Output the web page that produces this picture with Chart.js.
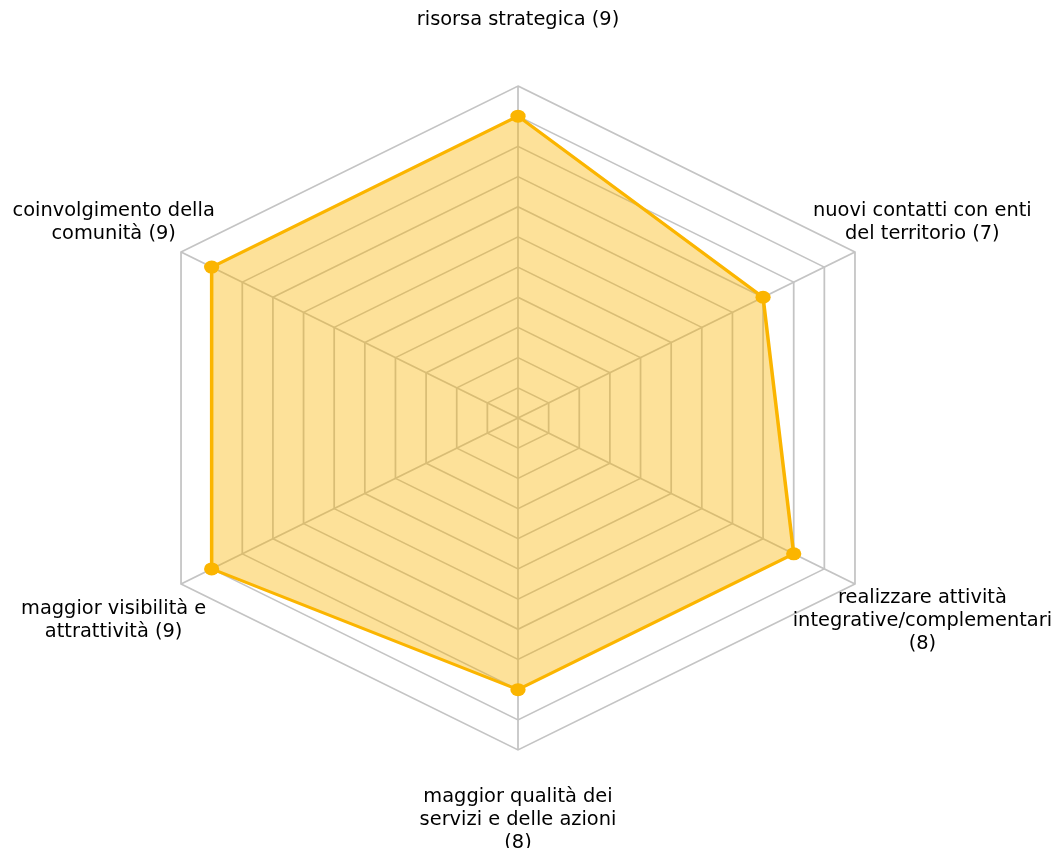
<!DOCTYPE html>
<html>
<head>
<meta charset="utf-8">
<script src="https://cdn.jsdelivr.net/npm/chart.js@4/dist/chart.umd.min.js"></script>
<style>
  html, body { margin: 0; padding: 0; background: #fff; }
  canvas { display: block; }
</style>
</head>
<body>
<canvas id="radarChart" width="1061" height="848"></canvas>
<script>
// Categories, clockwise from the top
const categories = [
    'risorsa strategica (9)',
    ['nuovi contatti con enti', 'del territorio (7)'],
    ['realizzare attività', 'integrative/complementari', '(8)'],
    ['maggior qualità dei', 'servizi e delle azioni', '(8)'],
    ['maggior visibilità e', 'attrattività (9)'],
    ['coinvolgimento della', 'comunità (9)']
];
// Counts for each category
const counts = [9, 7, 8, 8, 9, 9];

// Scale range (rings every 1 unit)
const scaleMin = -1;
const scaleMax = 10;

// The original hexagon is wider than tall
const stretch = 1.172;

const stretchPlugin = {
    id: 'stretch',
    beforeDraw(chart) {
        const r = chart.scales.r;
        const ctx = chart.ctx;
        ctx.save();
        ctx.translate(r.xCenter, 0);
        ctx.scale(stretch, 1);
        ctx.translate(-r.xCenter, 0);
    },
    afterDatasetsDraw(chart) {
        chart.ctx.restore();
    },
    afterDraw(chart) {
        // Category labels, centred around each spoke
        const r = chart.scales.r;
        const ctx = chart.ctx;
        ctx.save();
        ctx.font = '19.4px "DejaVu Sans"';
        ctx.fillStyle = '#000';
        ctx.textAlign = 'center';
        ctx.textBaseline = 'middle';
        const lineHeight = 22.8;
        chart.data.labels.forEach((label, i) => {
            const p = r.getPointPosition(i, r.drawingArea * 1.2);
            const x = r.xCenter + (p.x - r.xCenter) * stretch;
            const lines = [].concat(label);
            const shift = lines.length > 1 ? 3.5 : 0;
            lines.forEach((line, j) => {
                ctx.fillText(line, x, p.y + shift + (j - (lines.length - 1) / 2) * lineHeight);
            });
        });
        ctx.restore();
    }
};

const ctx = document.getElementById('radarChart').getContext('2d');
new Chart(ctx, {
    type: 'radar',
    data: {
        labels: categories,
        datasets: [{
            data: counts,
            borderColor: '#fbb500',
            backgroundColor: 'rgba(251, 181, 0, 0.4)',
            borderWidth: 3,
            fill: 'start',
            pointRadius: 6.5,
            pointBackgroundColor: '#fbb500',
            pointBorderWidth: 0,
            tension: 0
        }]
    },
    options: {
        responsive: false,
        animation: false,
        layout: {
            padding: { left: 185, right: 210, top: 86, bottom: 98 }
        },
        plugins: {
            legend: { display: false },
            tooltip: { enabled: false }
        },
        scales: {
            r: {
                min: scaleMin,
                max: scaleMax,
                ticks: { display: false, stepSize: 1 },
                pointLabels: { display: false },
                grid: { color: '#c4c4c4', lineWidth: 1.5 },
                angleLines: { color: '#c4c4c4', lineWidth: 1.5 }
            }
        }
    },
    plugins: [stretchPlugin]
});
</script>
</body>
</html>
